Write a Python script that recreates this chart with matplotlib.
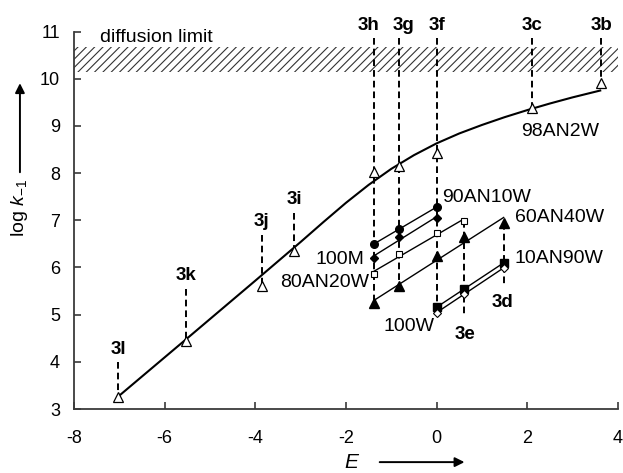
import numpy as np
import matplotlib
matplotlib.use("Agg")
import matplotlib.pyplot as plt

plt.rcParams['font.family'] = ['Liberation Sans', 'DejaVu Sans']
plt.rcParams['axes.unicode_minus'] = False
plt.rcParams['mathtext.fontset'] = 'custom'
plt.rcParams['mathtext.rm'] = 'Liberation Sans'
plt.rcParams['mathtext.it'] = 'Liberation Sans:italic'
plt.rcParams['hatch.linewidth'] = 0.8
plt.rcParams['lines.scale_dashes'] = False

# Electrophilicity E of the carbocations
compounds = ['3b', '3c', '3d', '3e', '3f', '3g', '3h', '3i', '3j', '3k', '3l']
E_vals = [3.63, 2.10, 1.48, 0.61, 0.00, -0.83, -1.38, -3.14, -3.85, -5.53, -7.02]
E = dict(zip(compounds, E_vals))

# log k-1 in 98AN2W
an98_cmpds = ['3b', '3c', '3f', '3g', '3h', '3i', '3j', '3k', '3l']
an98_logk = [9.92, 9.38, 8.42, 8.16, 8.03, 6.35, 5.61, 4.45, 3.26]

# correlation curve for 98AN2W
curve_E = [-7.03, -5.5, -4.0, -3.0, -2.5, -2.0, -1.5, -1.0, -0.5, 0.0, 0.5,
           1.0, 1.5, 2.0, 2.5, 3.0, 3.61]
curve_logk = [3.26, 4.50, 5.72, 6.54, 6.96, 7.37, 7.75, 8.09, 8.38, 8.63, 8.84,
              9.02, 9.185, 9.335, 9.475, 9.605, 9.75]

# other solvents: compounds and log k-1
s90_cmpds = ['3h', '3g', '3f']
s90_logk = [6.50, 6.81, 7.28]
m100_cmpds = ['3h', '3g', '3f']
m100_logk = [6.21, 6.64, 7.05]
s80_cmpds = ['3h', '3g', '3f', '3e']
s80_logk = [5.87, 6.28, 6.73, 6.99]
s60_cmpds = ['3h', '3g', '3f', '3e', '3d']
s60_logk = [5.25, 5.60, 6.25, 6.64, 6.94]
s10_cmpds = ['3f', '3e', '3d']
s10_logk = [5.16, 5.54, 6.10]
w100_cmpds = ['3f', '3e', '3d']
w100_logk = [5.04, 5.44, 5.99]

# diffusion limit band
diff_lo, diff_hi = 10.15, 10.68

fig = plt.figure(figsize=(6.23, 4.73), dpi=100)
ax = fig.add_axes([0.1188, 0.1353, 0.873, 0.798])
ax.set_xlim(-8, 4)
ax.set_ylim(3, 11)

ax.axhspan(diff_lo, diff_hi, facecolor='none', edgecolor='#333333',
           hatch='////', lw=0, zorder=1)
ax.text(-7.42, 10.87, 'diffusion limit', fontsize=14, ha='left', va='center')

dash_kw = dict(color='black', lw=1.4, linestyle=(0, (4.8, 2.9)), zorder=2)

series = [
    (s90_cmpds, s90_logk, dict(marker='o', ms=5.5, mfc='black', mec='black')),
    (m100_cmpds, m100_logk, dict(marker='D', ms=4.5, mfc='black', mec='black')),
    (s80_cmpds, s80_logk, dict(marker='s', ms=5, mfc='white', mec='black', mew=0.8)),
    (s60_cmpds, s60_logk, dict(marker='^', ms=6.5, mfc='black', mec='black')),
    (s10_cmpds, s10_logk, dict(marker='s', ms=5.5, mfc='black', mec='black')),
    (w100_cmpds, w100_logk, dict(marker='D', ms=4.5, mfc='white', mec='black', mew=0.8)),
]

# vertical dashed guides for each carbocation
top_labels = {'3b': 3.63, '3c': 2.10, '3f': 0.00, '3g': -0.73, '3h': -1.50}
side_labels = {'3i': (-3.13, 7.43), '3j': (-3.87, 6.97),
               '3k': (-5.53, 5.82), '3l': (-7.01, 4.27)}
low_labels = {'3e': (0.62, 4.57), '3d': (1.46, 5.25)}

all_pts = {}
for c, v in zip(an98_cmpds, an98_logk):
    all_pts.setdefault(c, []).append(v)
for cm, lk, _ in series:
    for c, v in zip(cm, lk):
        all_pts.setdefault(c, []).append(v)

label_y_top = 11.12
for c, lx in top_labels.items():
    ax.plot([E[c], E[c]], [label_y_top - 0.25, min(all_pts[c])], **dash_kw)
    ax.text(lx, label_y_top, c, fontsize=13.5, fontweight='bold',
            ha='center', va='center', clip_on=False)
for c, (lx, ly) in side_labels.items():
    ax.plot([E[c], E[c]], [ly - 0.28, min(all_pts[c])], **dash_kw)
    ax.text(lx, ly, c, fontsize=13.5, fontweight='bold', ha='center', va='center')
for c, (lx, ly) in low_labels.items():
    ax.plot([E[c], E[c]], [max(all_pts[c]), ly + 0.37], **dash_kw)
    ax.text(lx, ly, c, fontsize=13.5, fontweight='bold', ha='center', va='center')

# 98AN2W curve and points
ax.plot(curve_E, curve_logk, color='black', lw=1.5, zorder=3,
        solid_joinstyle='round')
ax.plot([E[c] for c in an98_cmpds], an98_logk, linestyle='none', marker='^',
        ms=6.5, mfc='white', mec='black', mew=0.9, zorder=4)

# linear correlations for the other solvents
for cm, lk, mk in series:
    x = np.array([E[c] for c in cm])
    y = np.array(lk)
    p = np.polyfit(x, y, 1)
    xs = np.array([x.min(), x.max()])
    ax.plot(xs, np.polyval(p, xs), color='black', lw=1.0, zorder=3)
    ax.plot(x, y, linestyle='none', zorder=5, **mk)

# solvent labels
ax.text(1.87, 8.88, '98AN2W', fontsize=14, ha='left', va='center')
ax.text(0.13, 7.49, '90AN10W', fontsize=14, ha='left', va='center')
ax.text(1.72, 7.05, '60AN40W', fontsize=14, ha='left', va='center')
ax.text(1.71, 6.18, '10AN90W', fontsize=14, ha='left', va='center')
ax.text(-1.59, 6.16, '100M', fontsize=14, ha='right', va='center')
ax.text(-1.49, 5.68, '80AN20W', fontsize=14, ha='right', va='center')
ax.text(-0.04, 4.75, '100W', fontsize=14, ha='right', va='center')

# axes styling
for s in ['top', 'right']:
    ax.spines[s].set_visible(False)
for s in ['left', 'bottom']:
    ax.spines[s].set_color('#3a3a3a')
    ax.spines[s].set_linewidth(1.3)
ax.set_xticks(np.arange(-8, 5, 2))
ax.set_yticks(np.arange(3, 12, 1))
ax.tick_params(direction='in', length=5, width=1.2, color='#3a3a3a',
               labelsize=13)
ax.tick_params(axis='x', pad=15)
ax.tick_params(axis='y', pad=10)

# axis titles with arrows
fig.text(0.032, 0.56, r'log $\mathit{k}_{\mathrm{-1}}$', rotation=90,
         fontsize=14, ha='center', va='center')
fig.patches.append(matplotlib.patches.FancyArrowPatch(
    (0.032, 0.63), (0.032, 0.83), transform=fig.transFigure,
    arrowstyle='-|>', mutation_scale=14, lw=1.4, color='black'))
fig.text(0.565, 0.023, r'$\mathit{E}$', fontsize=15, ha='center', va='center')
fig.patches.append(matplotlib.patches.FancyArrowPatch(
    (0.605, 0.023), (0.75, 0.023), transform=fig.transFigure,
    arrowstyle='-|>', mutation_scale=14, lw=1.4, color='black'))

fig.savefig('out.png', dpi=100)
